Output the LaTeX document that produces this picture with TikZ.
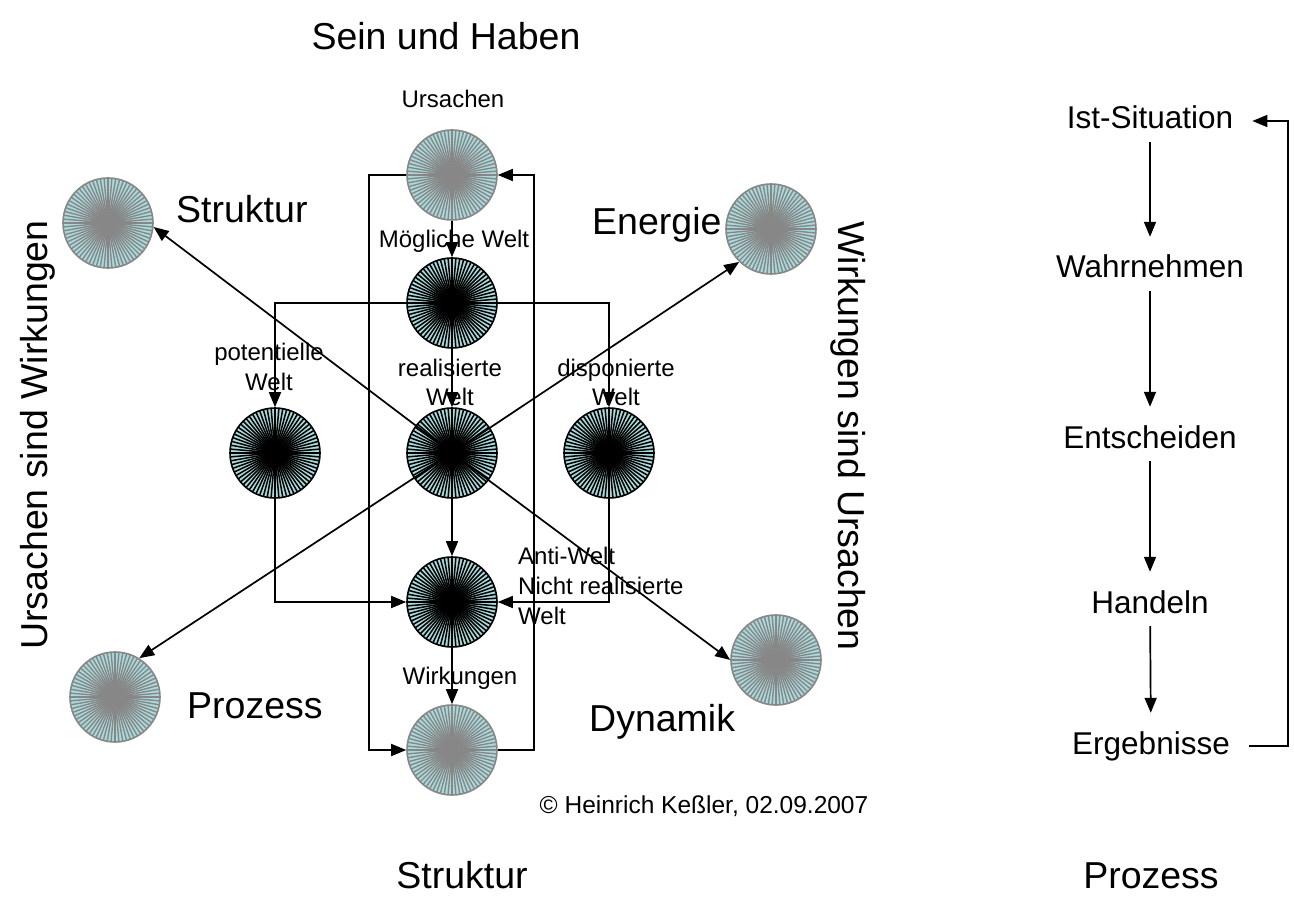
\documentclass[tikz,border=0pt]{standalone}
\usepackage{fontspec}
\setmainfont{Liberation Sans}
\usetikzlibrary{arrows.meta}
\definecolor{ballfill}{RGB}{168,218,220}
\definecolor{raygrey}{RGB}{135,135,135}
\begin{document}
\begin{tikzpicture}[x=1pt,y=-1pt,
  arr/.style={line width=1.7pt,-{Triangle[length=15pt,width=12pt]}},
  ball/.style={circle,minimum size=90pt,inner sep=0pt,fill=ballfill,line width=1.6pt},
  darkball/.style={ball,draw=black,path picture={
    \foreach \a in {0,5,...,355}
      \draw[line width=1.5pt,black] (path picture bounding box.center) -- ++(\a:48pt);}},
  greyball/.style={ball,draw=raygrey,path picture={
    \foreach \a in {0,5,...,355}
      \draw[line width=1.4pt,raygrey] (path picture bounding box.center) -- ++(\a:48pt);}},
  small/.style={inner sep=0pt,font=\fontsize{24}{30}\selectfont},
  big/.style={inner sep=0pt,font=\fontsize{37.5}{44}\selectfont},
  colt/.style={font=\fontsize{31.5}{38}\selectfont,text height=23pt,text depth=7pt,inner ysep=6pt,inner xsep=19pt,anchor=base},
]
\useasboundingbox (0,0) rectangle (1294,920);
\fill[white] (0,0) rectangle (1294,920);

% balls
\node[greyball] (U) at (452,175) {};
\node[darkball] (M) at (452,303) {};
\node[darkball] (R) at (452,453) {};
\node[darkball] (P) at (275,453) {};
\node[darkball] (D) at (609,453) {};
\node[darkball] (A) at (452,602) {};
\node[greyball] (W) at (452,750) {};
\node[greyball] (S) at (108,223) {};
\node[greyball] (E) at (771,229) {};
\node[greyball] (Pz) at (115,697) {};
\node[greyball] (Dy) at (776,660) {};

% connectors
\draw[arr] (U) -- (M);
\draw[arr] (M) -- (R);
\draw[arr] (R) -- (A);
\draw[arr] (A) -- (W);
\draw[arr] (U.west) -- ++(-37,0) |- (W.west);
\draw[arr] (W.east) -- ++(36,0) |- (U.east);
\draw[arr] (M.west) -| (P.north);
\draw[arr] (M.east) -| (D.north);
\draw[arr] (P.south) |- (A.west);
\draw[arr] (D.south) |- (A.east);
\draw[arr] (R.center) -- (S.-5);
\draw[arr] (R.center) -- (E.-134);
\draw[arr] (R.center) -- (Pz.58);
\draw[arr] (R.center) -- (Dy.180);

% labels
\node[big,anchor=base] (t1) at (446,50) {Sein und Haben};
\node[small,anchor=base] (lU) at (453,108) {Ursachen};
\node[small,anchor=base] (lM) at (454,248) {Mögliche Welt};
\node[small,anchor=base,align=center] (lP) at (269,390) {potentielle\\Welt};
\node[small,anchor=base,align=center] (lR) at (450,405) {realisierte\\[-1pt]Welt};
\node[small,anchor=base,align=center] (lD) at (616,405) {disponierte\\[-1pt]Welt};
\node[small,anchor=base west,align=left] (lA) at (518,624) {Anti-Welt\\Nicht realisierte\\Welt};
\node[small,anchor=base] (lW) at (460,684) {Wirkungen};
\node[big,anchor=base west] (lS) at (176,223) {Struktur};
\node[big,anchor=base west] (lE) at (592,235) {Energie};
\node[big,anchor=base west] (lPz) at (187,718) {Prozess};
\node[big,anchor=base west] (lDy) at (589,731) {Dynamik};
\node[big,anchor=base,rotate=90] (lL) at (47,435) {Ursachen sind Wirkungen};
\node[big,anchor=base,rotate=-90] (lRr) at (838,436) {Wirkungen sind Ursachen};
\node[small,anchor=base,font=\fontsize{24.5}{30}\selectfont] (copy) at (704,813) {© Heinrich Keßler, 02.09.2007};
\node[big,anchor=base] (bS) at (462,888) {Struktur};
\node[big,anchor=base] (bP) at (1151,888) {Prozess};

% right column
\node[colt] (c1) at (1150,129) {Ist-Situation};
\node[colt] (c2) at (1150,278) {Wahrnehmen};
\node[colt] (c3) at (1150,448) {Entscheiden};
\node[colt] (c4) at (1150,613) {Handeln};
\node[colt] (c5) at (1151,754) {Ergebnisse};
\draw[arr,shorten >=12pt] (c1) -- (c2);
\draw[arr,shorten >=12pt] (c2) -- (c3);
\draw[arr,shorten >=12pt] (c3) -- (c4);
\draw[arr,shorten >=12pt] (c4) -- (c5);
\draw[arr] (c5.east) -- ++(39,0) |- (c1.east);
\end{tikzpicture}
\end{document}
